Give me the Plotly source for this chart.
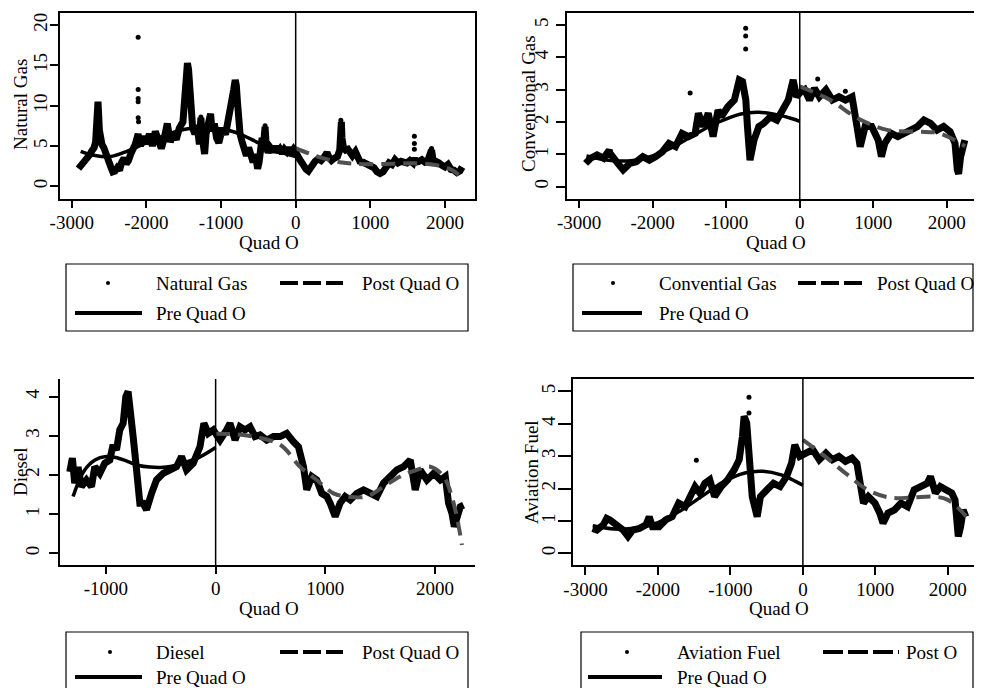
import plotly.graph_objects as go

# The page body has an 8px margin; the figure is sized so the page exactly fills the 982x696 window.
WIN_W, WIN_H = 982, 696
OFF = 8
W, H = WIN_W - 2 * OFF, WIN_H - 2 * OFF
FONT = "Liberation Serif"

# ---------------- Panel 1: Natural Gas ----------------
ng_x = [-2910, -2880, -2850, -2820, -2790, -2760, -2730, -2700, -2680, -2665, -2655, -2648, -2640, -2630,
        -2615, -2595, -2570, -2540, -2510, -2480, -2450, -2420, -2390, -2360, -2330, -2300, -2270, -2240,
        -2210, -2180, -2150, -2125, -2110, -2095, -2080, -2040, -2000, -1960, -1920, -1880, -1840, -1800,
        -1760, -1720, -1680, -1640, -1600, -1560, -1510, -1490, -1470, -1450, -1435, -1420, -1400, -1380,
        -1350, -1320, -1290, -1270, -1250, -1220, -1200, -1170, -1140, -1120, -1090, -1060, -1030, -1000,
        -970, -940, -910, -880, -850, -830, -810, -795, -780, -765, -745, -720, -690, -660, -630, -600,
        -570, -540, -510, -490, -470, -450, -430, -410, -395, -370, -340, -300, -270, -240, -210, -180,
        -150, -120, -90, -60, -30, 0, 20, 50, 80, 110, 140, 170, 200, 230, 260, 300, 340, 380, 420, 450,
        480, 520, 560, 590, 605, 612, 620, 640, 670, 700, 730, 760, 800, 830, 860, 900, 950, 1000, 1050,
        1090, 1130, 1170, 1210, 1250, 1290, 1330, 1370, 1410, 1450, 1490, 1530, 1570, 1590, 1610, 1650,
        1690, 1730, 1770, 1800, 1820, 1840, 1880, 1920, 1960, 2000, 2040, 2080, 2120, 2160, 2200, 2230]
ng_y = [2.2, 2.5, 2.8, 3.2, 3.5, 3.9, 4.4, 4.8, 5.5, 7.0, 9.0, 10.5, 9.0, 7.0,
        5.8, 5.2, 4.8, 3.8, 3.0, 2.5, 1.8, 1.9, 2.3, 2.0, 3.0, 3.5, 2.8, 3.2,
        4.0, 4.5, 5.2, 6.0, 6.5, 5.5, 5.0, 6.2, 5.3, 6.5, 5.0, 6.8, 5.6, 4.7,
        6.0, 7.8, 5.5, 6.5, 5.8, 7.2, 8.0, 10.5, 13.5, 15.3, 14.5, 12.0, 9.0, 7.2,
        6.5, 7.6, 5.2, 8.5, 6.0, 4.0, 6.5, 7.8, 9.0, 6.8, 7.8, 6.0, 5.4, 6.5,
        7.2, 6.4, 7.8, 8.8, 10.3, 12.0, 13.2, 12.5, 10.5, 8.0, 6.5, 5.6, 4.5, 3.8, 4.8, 3.5,
        3.0, 4.0, 2.2, 3.0, 4.5, 6.0, 5.2, 7.4, 5.0, 4.2, 4.8, 4.3, 5.0, 4.2, 4.6, 4.1,
        4.6, 4.3, 4.8, 4.2, 4.6, 4.3, 3.9, 3.4, 2.9, 2.5, 2.1, 1.9, 2.4, 2.9, 3.1, 3.4, 3.2, 3.6, 4.2, 3.5,
        3.2, 3.5, 3.7, 4.5, 6.5, 8.0, 6.0, 4.8, 4.5, 4.6, 4.2, 3.8, 4.3, 3.4, 3.1, 3.0, 2.7, 2.6, 2.3,
        1.8, 1.6, 1.8, 2.2, 2.9, 2.7, 3.3, 2.9, 3.1, 3.0, 2.9, 3.2, 2.9, 3.5, 3.0, 3.1,
        3.3, 3.0, 3.2, 4.0, 4.5, 3.3, 3.2, 2.9, 2.6, 2.4, 2.7, 2.1, 2.0, 1.7, 1.9, 2.4]
ng_out_x = [-2110, -2110, -2110, -2110, -2110, -2105, -1270, -410, 605, 610, 1590, 1590, 1590, 1820]
ng_out_y = [18.5, 12.0, 10.9, 10.5, 8.5, 8.0, 8.6, 7.5, 8.2, 7.8, 6.2, 5.3, 4.6, 4.7]
ng_pre_x = [-2880, -2750, -2600, -2450, -2300, -2100, -1900, -1700, -1500, -1300, -1100, -900, -700, -500, -300, -150, 0]
ng_pre_y = [4.35, 3.95, 3.7, 3.75, 4.2, 5.0, 5.8, 6.5, 7.05, 7.3, 7.25, 6.95, 6.3, 5.4, 4.6, 4.1, 3.7]
ng_post_x = [0, 200, 400, 620, 800, 1000, 1300, 1600, 1900, 2100, 2230]
ng_post_y = [4.75, 4.0, 3.4, 2.95, 2.8, 2.75, 2.8, 2.85, 2.6, 2.0, 1.0]

# ---------------- Panel 2: Conventional Gas ----------------
cg_x = [-2911, -2844, -2756, -2667, -2590, -2578, -2489, -2400, -2311, -2222, -2133, -2044, -1956, -1867,
        -1778, -1689, -1600, -1511, -1422, -1378, -1311, -1244, -1178, -1111, -1067, -978, -889, -822,
        -778, -733, -711, -676, -622, -556, -489, -400, -311, -222, -156, -89, -44, 0, 67, 133, 200, 267,
        356, 444, 533, 622, 711, 778, 822, 889, 978, 1067, 1111, 1156, 1244, 1333, 1422, 1511, 1600,
        1689, 1778, 1867, 1956, 2044, 2111, 2142, 2160, 2187, 2244]
cg_y = [0.72, 0.88, 0.98, 0.88, 1.13, 1.03, 0.77, 0.52, 0.72, 0.77, 0.93, 0.82, 0.93, 1.08,
        1.34, 1.24, 1.65, 1.55, 1.65, 2.27, 1.86, 2.27, 1.55, 2.37, 2.16, 2.47, 2.68, 3.3,
        3.25, 2.68, 1.86, 0.82, 1.44, 1.86, 1.96, 2.16, 2.06, 2.37, 2.68, 3.3, 2.78, 2.9, 3.0, 2.68, 3.04, 2.78,
        3.0, 2.68, 2.78, 2.68, 2.78, 1.86, 1.24, 1.86, 1.86, 1.44, 0.93, 1.34, 1.65, 1.55, 1.65, 1.75, 1.86,
        2.06, 1.96, 1.75, 1.86, 1.70, 1.34, 0.52, 0.40, 0.93, 1.44]
cg_out_x = [-735, -735, -735, -1490, 244, 620]
cg_out_y = [4.9, 4.66, 4.26, 2.9, 3.33, 2.95]
cg_pre_x = [-2900, -2600, -2300, -2000, -1700, -1400, -1100, -800, -550, -300, -100, 0]
cg_pre_y = [0.95, 0.82, 0.8, 0.95, 1.25, 1.65, 2.0, 2.25, 2.3, 2.22, 2.1, 2.02]
cg_post_x = [0, 400, 800, 1200, 1600, 1900, 2250]
cg_post_y = [3.1, 2.7, 2.1, 1.75, 1.7, 1.65, 1.25]

# ---------------- Panel 3: Diesel ----------------
di_x = [-1330, -1306, -1285, -1254, -1224, -1178, -1132, -1102, -1056, -1011, -965, -935, -904, -874,
        -843, -819, -798, -776, -752, -721, -691, -661, -630, -584, -539, -478, -417, -356, -311, -265,
        -204, -143, -107, -67, -21, 40, 100, 131, 177, 222, 268, 314, 359, 405, 466, 527, 588, 648, 709,
        755, 801, 831, 877, 922, 968, 1014, 1044, 1090, 1135, 1181, 1227, 1288, 1349, 1409, 1470, 1531,
        1592, 1653, 1714, 1775, 1820, 1865, 1927, 1988, 2049, 2094, 2124, 2155, 2176, 2200, 2231, 2261]
di_y = [2.08, 2.43, 1.79, 2.2, 1.70, 1.87, 1.70, 2.21, 2.04, 2.30, 2.38, 2.77, 2.64, 3.15,
        3.32, 4.0, 4.13, 3.66, 2.98, 2.13, 1.28, 1.28, 1.11, 1.53, 1.87, 2.04, 2.13, 2.21, 2.47, 2.13,
        2.30, 2.72, 3.32, 3.06, 3.15, 2.89, 3.15, 3.32, 2.89, 3.23, 3.15, 3.23, 2.98, 3.02, 2.89, 2.98, 2.98, 3.06, 2.85,
        2.72, 2.21, 1.62, 1.96, 1.87, 1.53, 1.45, 1.28, 0.94, 1.28, 1.45, 1.36, 1.53, 1.62, 1.53, 1.45, 1.79,
        1.96, 2.13, 2.21, 2.38, 1.62, 2.13, 1.87, 2.04, 1.87, 1.96, 1.28, 1.02, 0.68, 0.94, 1.19, 1.23]
di_pre_x = [-1300, -1200, -1100, -1000, -900, -800, -700, -600, -500, -400, -300, -150, 0]
di_pre_y = [1.45, 2.1, 2.38, 2.47, 2.44, 2.34, 2.24, 2.2, 2.19, 2.22, 2.3, 2.45, 2.7]
di_post_x = [0, 300, 588, 770, 922, 1075, 1196, 1379, 1531, 1683, 1835, 1957, 2079, 2170, 2246]
di_post_y = [3.05, 3.0, 2.77, 2.21, 1.87, 1.53, 1.45, 1.45, 1.70, 1.96, 2.13, 2.21, 1.96, 1.28, 0.21]

# ---------------- Panel 4: Aviation Fuel ----------------
af_x = [-2900, -2842, -2752, -2707, -2662, -2571, -2481, -2413, -2346, -2255, -2165, -2120, -2075, -1985,
        -1894, -1804, -1714, -1624, -1556, -1488, -1421, -1353, -1285, -1218, -1127, -1037, -947, -879,
        -834, -811, -775, -744, -699, -631, -586, -496, -405, -315, -225, -157, -112, -44, 46, 136, 226,
        317, 407, 497, 587, 678, 745, 791, 836, 903, 994, 1061, 1106, 1174, 1264, 1354, 1444, 1535, 1625,
        1715, 1761, 1828, 1896, 1986, 2054, 2099, 2122, 2144, 2176, 2212, 2248]
af_y = [0.77, 0.72, 0.88, 1.08, 1.03, 0.88, 0.72, 0.52, 0.72, 0.77, 0.88, 1.13, 0.82, 0.82,
        1.03, 1.13, 1.55, 1.44, 1.75, 2.06, 1.86, 2.16, 2.27, 1.75, 2.06, 2.27, 2.58, 2.89,
        3.61, 4.23, 4.02, 3.2, 1.75, 1.13, 1.75, 1.96, 2.16, 2.06, 2.37, 2.78, 3.35, 2.99, 3.09, 3.2, 2.89,
        3.09, 2.89, 2.99, 2.84, 2.94, 2.78, 2.27, 1.55, 1.75, 1.55, 1.24, 0.93, 1.24, 1.34, 1.55, 1.44, 1.96, 2.06,
        2.16, 2.37, 1.86, 2.06, 1.96, 1.86, 1.65, 0.93, 0.52, 0.82, 1.34, 1.13]
af_out_x = [-744, -744, -1470]
af_out_y = [4.82, 4.33, 2.87]
af_pre_x = [-2900, -2600, -2300, -2000, -1700, -1400, -1100, -800, -550, -300, -100, 0]
af_pre_y = [0.85, 0.75, 0.78, 0.95, 1.3, 1.75, 2.2, 2.48, 2.53, 2.42, 2.22, 2.1]
af_post_x = [0, 300, 600, 900, 1200, 1500, 1800, 2000, 2250]
af_post_y = [3.5, 3.0, 2.45, 1.95, 1.72, 1.72, 1.75, 1.65, 1.15]

# tick values and labels (hyphen minus as in the original)
x_ticks_long = [-3000, -2000, -1000, 0, 1000, 2000]
x_labels_long = ["-3000", "-2000", "-1000", "0", "1000", "2000"]
x_ticks_short = [-1000, 0, 1000, 2000]
x_labels_short = ["-1000", "0", "1000", "2000"]

panels = [
    dict(name="Natural Gas", x=ng_x, y=ng_y, ox=ng_out_x, oy=ng_out_y,
         prex=ng_pre_x, prey=ng_pre_y, postx=ng_post_x, posty=ng_post_y,
         box=(60, 475, 13, 199), xr=[-3157, 2402], yr=[-1.57, 21.5], xt=x_ticks_long, xl=x_labels_long,
         yt=[0, 5, 10, 15, 20], mirror_x=True, mirror_y=True, ylen=8, xlen=7, ystand=-4),
    dict(name="Conventional Gas", x=cg_x, y=cg_y, ox=cg_out_x, oy=cg_out_y,
         prex=cg_pre_x, prey=cg_pre_y, postx=cg_post_x, posty=cg_post_y,
         box=(567, 982, 13, 199), xr=[-3164, 2369], yr=[-0.38, 5.37], xt=x_ticks_long, xl=x_labels_long,
         yt=[0, 1, 2, 3, 4, 5], mirror_x=True, mirror_y=False, ylen=9, xlen=7, ystand=1),
    dict(name="Diesel", x=di_x, y=di_y, ox=[], oy=[],
         prex=di_pre_x, prey=di_pre_y, postx=di_post_x, posty=di_post_y,
         box=(60, 475, 379, 565), xr=[-1419, 2365], yr=[-0.30, 4.45], xt=x_ticks_short, xl=x_labels_short,
         yt=[0, 1, 2, 3, 4], mirror_x=False, mirror_y=False, ylen=9, xlen=7, ystand=3),
    dict(name="Aviation Fuel", x=af_x, y=af_y, ox=af_out_x, oy=af_out_y,
         prex=af_pre_x, prey=af_pre_y, postx=af_post_x, posty=af_post_y,
         box=(573, 982, 379, 565), xr=[-3172, 2361], yr=[-0.36, 5.38], xt=x_ticks_long, xl=x_labels_long,
         yt=[0, 1, 2, 3, 4, 5], mirror_x=True, mirror_y=False, ylen=13, xlen=8, ystand=-4),
]


def PX(v):
    return (v - OFF) / W


def PY(v):
    return 1 - (v - OFF) / H


def clamp(v):
    return min(max(v, 0.0), 1.0)


fig = go.Figure()
shapes = []
annotations = []

for i, p in enumerate(panels):
    k = "" if i == 0 else str(i + 1)
    xa, ya = "x" + k, "y" + k
    l, r, t, b = p["box"]
    fig.add_trace(go.Scatter(x=p["x"], y=p["y"], mode="lines", line=dict(color="black", width=7),
                             xaxis=xa, yaxis=ya, showlegend=False, name=p["name"]))
    if p["ox"]:
        fig.add_trace(go.Scatter(x=p["ox"], y=p["oy"], mode="markers", marker=dict(color="black", size=5),
                                 xaxis=xa, yaxis=ya, showlegend=False, name=p["name"]))
    fig.add_trace(go.Scatter(x=p["prex"], y=p["prey"], mode="lines", line=dict(color="black", width=3.5, shape="spline"),
                             xaxis=xa, yaxis=ya, showlegend=False, name="Pre Quad O"))
    fig.add_trace(go.Scatter(x=p["postx"], y=p["posty"], mode="lines",
                             line=dict(color="#505050", width=4, shape="spline", dash="14px,8px"),
                             xaxis=xa, yaxis=ya, showlegend=False, name="Post Quad O"))
    axcommon = dict(showgrid=False, zeroline=False, showline=True, linecolor="black", linewidth=1.5,
                    ticks="outside", tickcolor="black", tickwidth=1.5, automargin=False,
                    tickfont=dict(family=FONT, size=19, color="black"))
    fig.update_layout(**{
        ("xaxis" + k): dict(domain=[clamp(PX(l)), clamp(PX(r))], range=p["xr"], tickvals=p["xt"], ticktext=p["xl"],
                            ticklen=p["xlen"], mirror=p["mirror_x"], anchor=ya, ticklabelstandoff=-2, **axcommon),
        ("yaxis" + k): dict(domain=[clamp(PY(b)), clamp(PY(t))], range=p["yr"], tickvals=p["yt"], tickangle=-90,
                            ticklen=p["ylen"], mirror=p["mirror_y"], anchor=xa,
                            ticklabelstandoff=p["ystand"], **axcommon),
    })
    # vertical reference line at Quad O = 0
    shapes.append(dict(type="line", xref=xa, yref=ya + " domain", x0=0, x1=0, y0=0, y1=1,
                       line=dict(color="black", width=1.5)))
    # x axis title
    annotations.append(dict(text="Quad O", x=PX((l + r) / 2 + 1), y=PY(b + 43), xref="paper", yref="paper",
                            showarrow=False, xanchor="center", yanchor="middle",
                            font=dict(family=FONT, size=19, color="black")))

ytitles = [("Natural Gas", 21, 105), ("Conventional Gas", 529, 104), ("Diesel", 20, 472), ("Aviation Fuel", 531, 472)]
for txt, xx, yy in ytitles:
    annotations.append(dict(text=txt, x=PX(xx), y=PY(yy), xref="paper", yref="paper", textangle=-90,
                            showarrow=False, xanchor="center", yanchor="middle",
                            font=dict(family=FONT, size=19, color="black")))

# legends (manual, Stata-style boxes)
legends = [
    dict(box=(66, 468, 264, 331), r1=283, r2=313, dot=108, t1=154, t1s="Natural Gas", d=(280, 343), t2=360,
         t2s="Post Quad O", pl=(75, 142), dash="18px,5px"),
    dict(box=(573, 973, 264, 331), r1=283, r2=313, dot=613, t1=657, t1s="Convential Gas", d=(798, 862), t2=875,
         t2s="Post Quad O", pl=(582, 642), dash="18px,5px"),
    dict(box=(66, 468, 632, 700), r1=652, r2=677, dot=110, t1=154, t1s="Diesel", d=(280, 343), t2=360,
         t2s="Post Quad O", pl=(75, 142), dash="18px,5px"),
    dict(box=(581, 973, 632, 700), r1=652, r2=677, dot=627, t1=675, t1s="Aviation Fuel", d=(823, 899), t2=904,
         t2s="Post O", pl=(588, 662), dash="20px,5px,20px,5px,20px,5px,4px,5px"),
]
for lg in legends:
    l, r, t, b = lg["box"]
    shapes.append(dict(type="rect", xref="paper", yref="paper", x0=PX(l), x1=PX(r), y0=PY(b), y1=PY(t),
                       line=dict(color="black", width=1.2), fillcolor="rgba(0,0,0,0)"))
    shapes.append(dict(type="circle", xref="paper", yref="paper", x0=PX(lg["dot"] - 2), x1=PX(lg["dot"] + 2),
                       y0=PY(lg["r1"] + 2), y1=PY(lg["r1"] - 2), fillcolor="black", line=dict(width=0)))
    shapes.append(dict(type="line", xref="paper", yref="paper", x0=PX(lg["d"][0]), x1=PX(lg["d"][1]),
                       y0=PY(lg["r1"]), y1=PY(lg["r1"]), line=dict(color="black", width=4, dash=lg["dash"])))
    shapes.append(dict(type="line", xref="paper", yref="paper", x0=PX(lg["pl"][0]), x1=PX(lg["pl"][1]),
                       y0=PY(lg["r2"]), y1=PY(lg["r2"]), line=dict(color="black", width=4)))
    for txt, xx, yy in [(lg["t1s"], lg["t1"], lg["r1"]), (lg["t2s"], lg["t2"], lg["r1"]), ("Pre Quad O", lg["t1"], lg["r2"])]:
        annotations.append(dict(text=txt, x=PX(xx), y=PY(yy), xref="paper", yref="paper", showarrow=False,
                                xanchor="left", yanchor="middle", font=dict(family=FONT, size=19, color="black")))

fig.update_layout(width=W, height=H, margin=dict(l=0, r=0, t=0, b=0), plot_bgcolor="white",
                  paper_bgcolor="white", shapes=shapes, annotations=annotations, showlegend=False,
                  font=dict(family=FONT, size=19, color="black"))
fig.write_html("out.html")
